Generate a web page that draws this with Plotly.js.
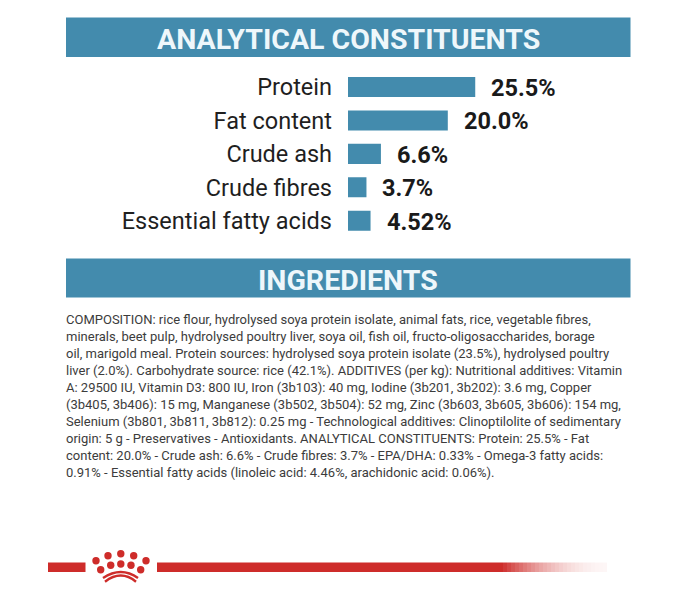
<!DOCTYPE html>
<html>
<head>
<meta charset="utf-8">
<script src="https://cdn.plot.ly/plotly-3.0.1.min.js"></script>
<style>html,body{margin:0;padding:0;background:#fff}</style>
</head>
<body>
<div id="chart" style="width:696px;height:600px"></div>
<script>
const categories = ["Protein", "Fat content", "Crude ash", "Crude fibres", "Essential fatty acids"];
const values = [25.5, 20.0, 6.6, 3.7, 4.52];
const valueLabels = ["25.5%", "20.0%", "6.6%", "3.7%", "4.52%"];
const bannerTitles = ["ANALYTICAL CONSTITUENTS", "INGREDIENTS"];
const bodyLines = [
"COMPOSITION: rice flour, hydrolysed soya protein isolate, animal fats, rice, vegetable fibres,",
"minerals, beet pulp, hydrolysed poultry liver, soya oil, fish oil, fructo-oligosaccharides, borage",
"oil, marigold meal. Protein sources: hydrolysed soya protein isolate (23.5%), hydrolysed poultry",
"liver (2.0%). Carbohydrate source: rice (42.1%). ADDITIVES (per kg): Nutritional additives: Vitamin",
"A: 29500 IU, Vitamin D3: 800 IU, Iron (3b103): 40 mg, Iodine (3b201, 3b202): 3.6 mg, Copper",
"(3b405, 3b406): 15 mg, Manganese (3b502, 3b504): 52 mg, Zinc (3b603, 3b605, 3b606): 154 mg,",
"Selenium (3b801, 3b811, 3b812): 0.25 mg - Technological additives: Clinoptilolite of sedimentary",
"origin: 5 g - Preservatives - Antioxidants. ANALYTICAL CONSTITUENTS: Protein: 25.5% - Fat",
"content: 20.0% - Crude ash: 6.6% - Crude fibres: 3.7% - EPA/DHA: 0.33% - Omega-3 fatty acids:",
"0.91% - Essential fatty acids (linoleic acid: 4.46%, arachidonic acid: 0.06%)."
];

const W = 696, H = 600;
const BLUE = "#438bad", RED = "#ce2c2a";
const FONT = 'Roboto,"Liberation Sans",sans-serif';
const px = v => v / W, py = v => 1 - v / H;
const rectPx = (x0, y0, x1, y1, color, opacity) => ({
  type: "rect", xref: "paper", yref: "paper", layer: "below",
  x0: px(x0), x1: px(x1), y0: py(y1), y1: py(y0),
  fillcolor: color, opacity: opacity === undefined ? 1 : opacity, line: {width: 0}
});
const circlePx = (cx, cy, r) => ({
  type: "circle", xref: "paper", yref: "paper", layer: "above",
  x0: px(cx - r), x1: px(cx + r), y0: py(cy + r), y1: py(cy - r),
  fillcolor: RED, line: {width: 0}
});
const arcPx = (x0, y0, cx, cy, x1, y1) => ({
  type: "path", xref: "paper", yref: "paper", layer: "above",
  path: `M ${px(x0)} ${py(y0)} Q ${px(cx)} ${py(cy)} ${px(x1)} ${py(y1)}`,
  line: {color: RED, width: 2.4}
});

const shapes = [
  rectPx(66, 17.5, 630.5, 57, BLUE),
  rectPx(66, 258.5, 630.5, 297.5, BLUE),
  rectPx(48, 562.5, 85.5, 572, RED),
  rectPx(157, 562.5, 503, 572, RED)
];
// ribbon fade towards the right
for (let i = 0; i < 26; i++) {
  const x0 = 503 + i * 4;
  const t = 1 - i / 26;
  shapes.push(rectPx(x0, 562.5, x0 + 4, 572, RED, 0.04 + 0.9 * t * t));
}
// crown
[[96,560.7],[108,555.7],[120.8,553.7],[133.7,555.7],[146,560.7],
 [100.7,569.7],[110.7,565.3],[120.8,564],[131,565.3],[140.7,569.7]]
  .forEach(c => shapes.push(circlePx(c[0], c[1], 3.7)));
shapes.push(arcPx(103, 578, 121, 566, 138, 578));
shapes.push(arcPx(105, 581.7, 121, 569.5, 136, 581.7));

const bannerFont = {family: FONT, size: 28.5, color: "#eef7fb", weight: 700};
const annotations = [
  {text: bannerTitles[0], x: px(348), y: py(39.5), xref: "paper", yref: "paper", xanchor: "center", yanchor: "middle",
   showarrow: false, font: bannerFont},
  {text: bannerTitles[1], x: px(348), y: py(280), xref: "paper", yref: "paper", xanchor: "center", yanchor: "middle",
   showarrow: false, font: bannerFont}
];
bodyLines.forEach((line, i) => annotations.push({
  text: line, x: px(65), y: py(319 + i * 17.0), xref: "paper", yref: "paper", xanchor: "left", yanchor: "middle",
  showarrow: false, borderpad: 0, font: {family: FONT, size: 13, color: "#3c3c3c"}
}));
values.forEach((v, i) => annotations.push({
  text: valueLabels[i], x: v, y: categories[i], xref: "x", yref: "y", xanchor: "left", yanchor: "middle",
  xshift: 14, yshift: -1, showarrow: false, font: {family: FONT, size: 23.5, color: "#1a1a1a", weight: 700}
}));

const trace = {
  type: "bar", orientation: "h", y: categories, x: values,
  marker: {color: BLUE, line: {width: 0}},
  hoverinfo: "skip"
};

const layout = {
  width: W, height: H, showlegend: false,
  paper_bgcolor: "#ffffff", plot_bgcolor: "rgba(0,0,0,0)",
  margin: {l: 0, r: 0, t: 0, b: 0, pad: 0},
  bargap: 0.4,
  xaxis: {domain: [348 / W, 1], range: [0, 348 / 4.99], visible: false, fixedrange: true},
  yaxis: {domain: [py(237.5), py(70)], autorange: "reversed", anchor: "x", automargin: false,
          showline: false, showgrid: false, zeroline: false, ticks: "", ticklabelstandoff: 15,
          tickfont: {family: FONT, size: 23.5, color: "#1f1f1f"}, fixedrange: true},
  shapes: shapes, annotations: annotations
};

Plotly.newPlot("chart", [trace], layout, {displayModeBar: false, staticPlot: true});
</script>
</body>
</html>
